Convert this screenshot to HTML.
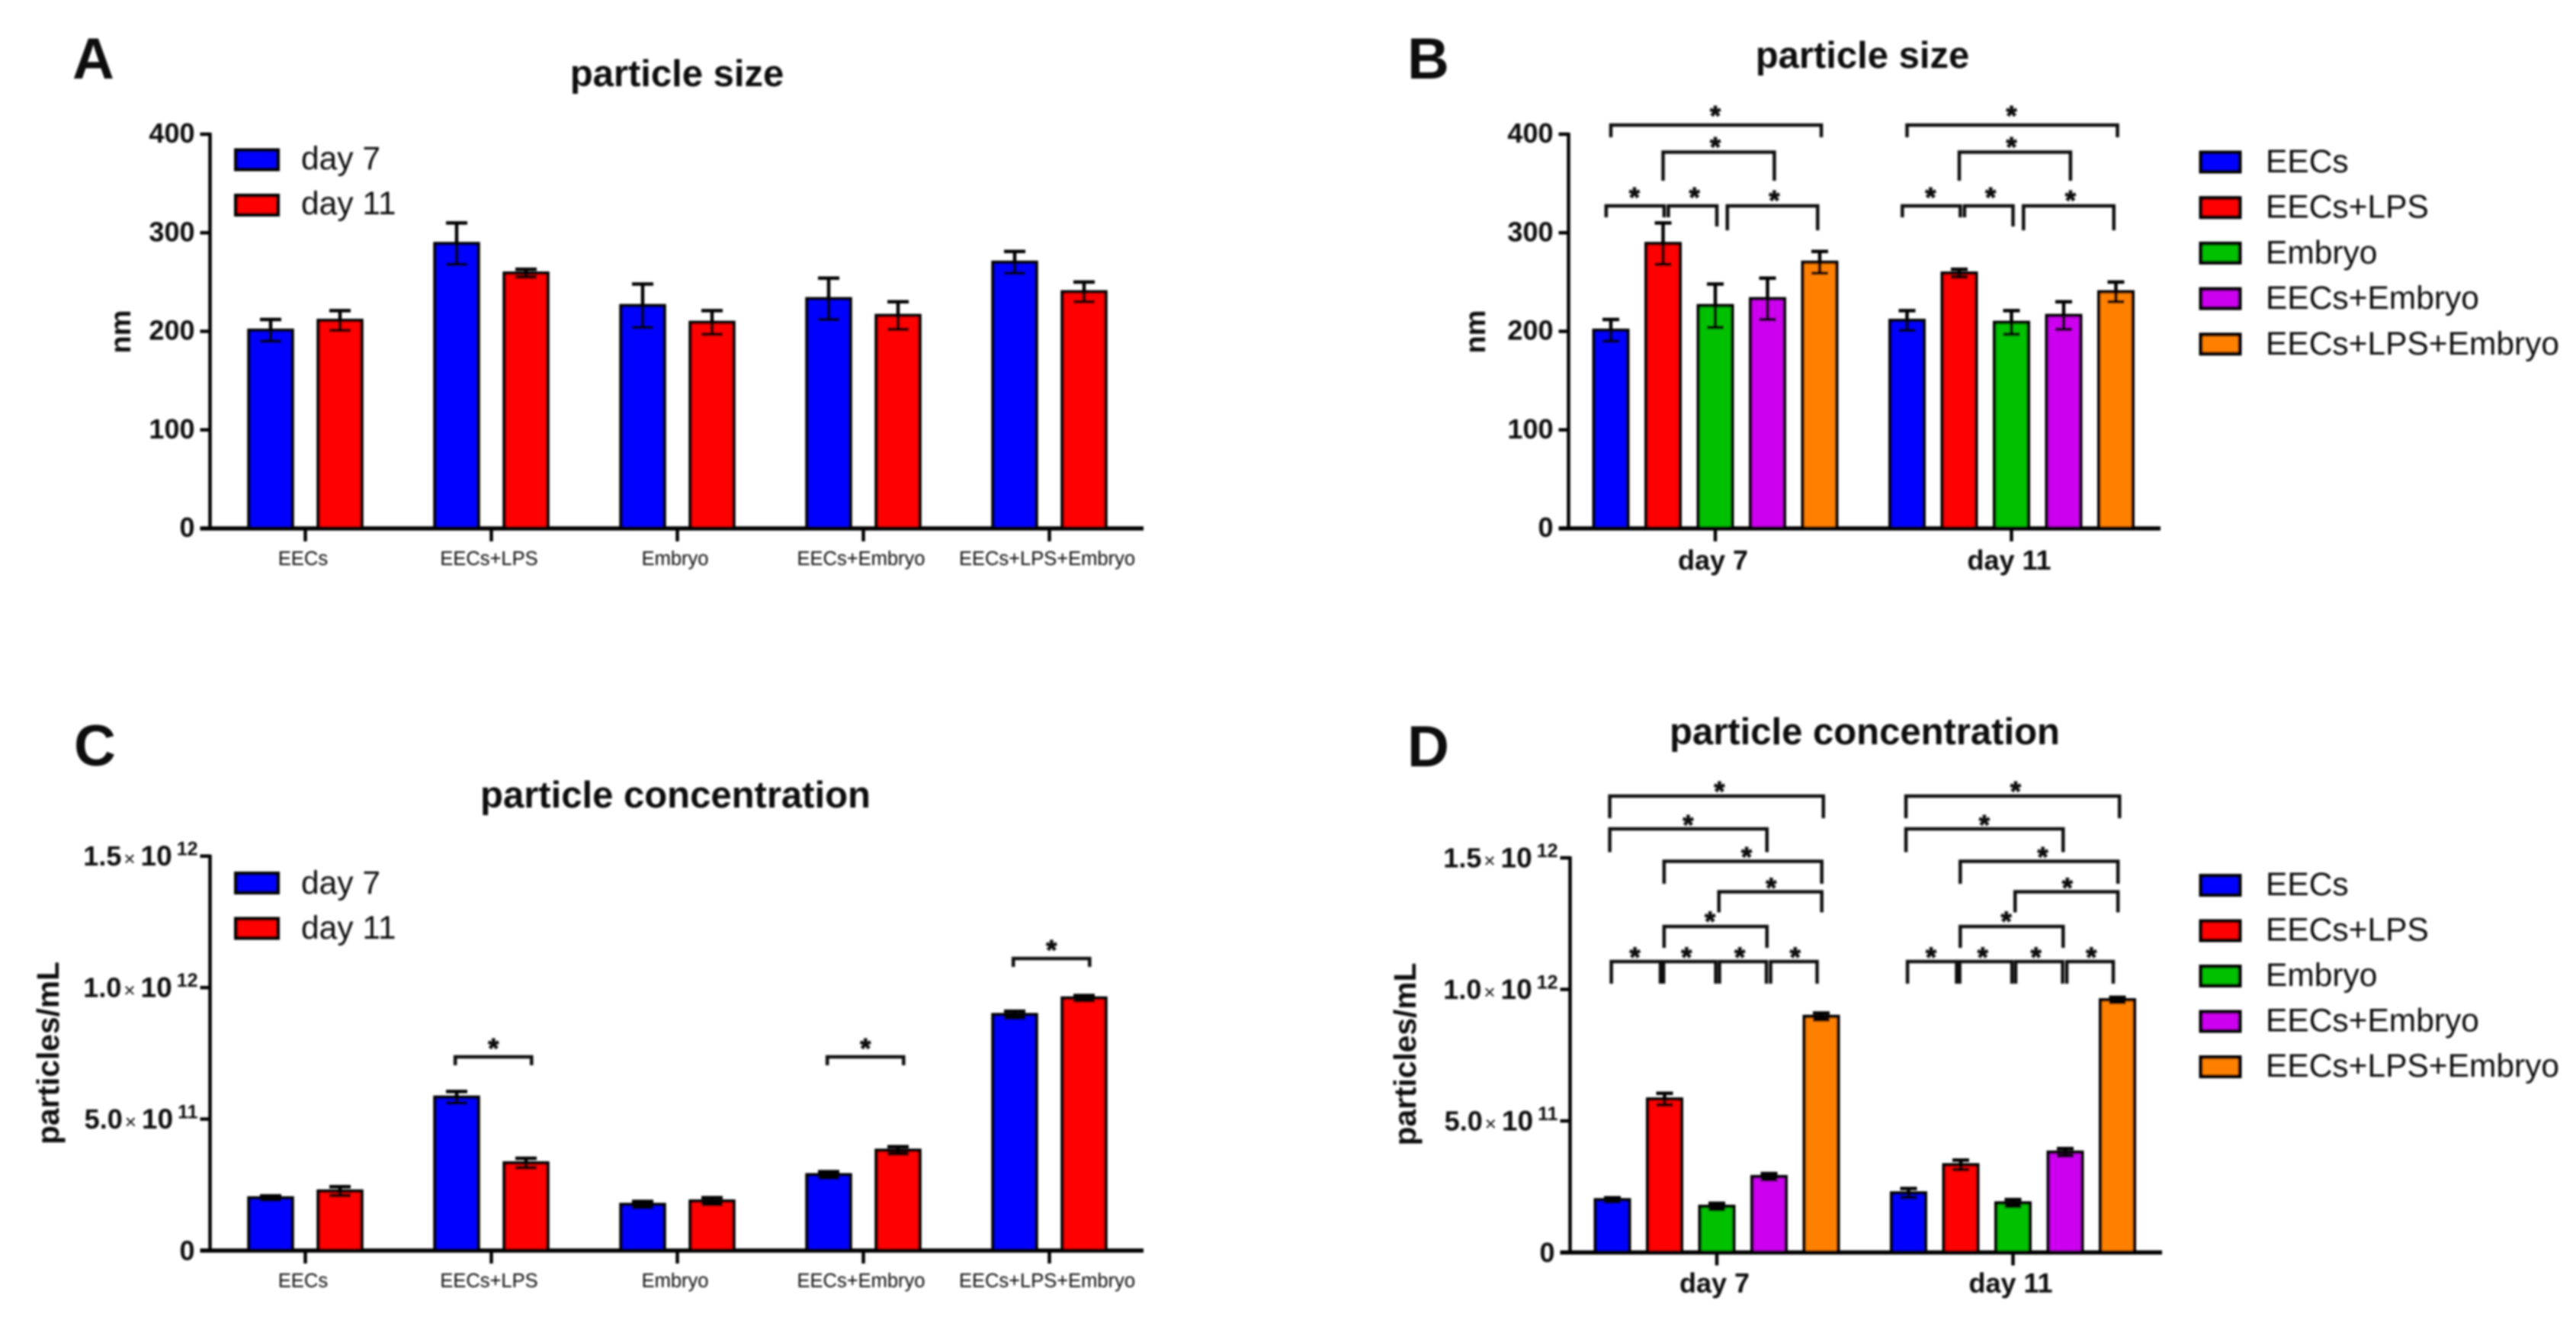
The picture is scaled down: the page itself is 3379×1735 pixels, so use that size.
<!DOCTYPE html>
<html lang="en">
<head>
<meta charset="utf-8">
<title>Particle size and particle concentration</title>
<style>
html,body{margin:0;padding:0;background:#fff;width:3379px;height:1735px;overflow:hidden}
svg{display:block}
text{font-family:"Liberation Sans",sans-serif;fill:#111}
</style>
</head>
<body>
<svg id="figure" xmlns="http://www.w3.org/2000/svg" width="3379" height="1735" viewBox="0 0 3379 1735">
<defs>
<filter id="soft" filterUnits="userSpaceOnUse" x="0" y="0" width="3379" height="1735"><feGaussianBlur stdDeviation="1.3"/></filter>
</defs>
<rect x="0" y="0" width="3379" height="1735" fill="#fff"/>
<g id="root" filter="url(#soft)">
<text x="95" y="103" font-size="76" font-weight="700">A</text>
<text x="1846" y="103" font-size="76" font-weight="700">B</text>
<text x="97" y="1004" font-size="76" font-weight="700">C</text>
<text x="1846" y="1005" font-size="76" font-weight="700">D</text>
<text x="888" y="113" font-size="49" font-weight="700" text-anchor="middle">particle size</text>
<text x="2443" y="89" font-size="49" font-weight="700" text-anchor="middle">particle size</text>
<text x="886" y="1059" font-size="49" font-weight="700" text-anchor="middle">particle concentration</text>
<text x="2446" y="976" font-size="49" font-weight="700" text-anchor="middle">particle concentration</text>
</g>
</svg>
<script>
// ---- data ----
const categories = ['EECs', 'EECs+LPS', 'Embryo', 'EECs+Embryo', 'EECs+LPS+Embryo'];
const days = ['day 7', 'day 11'];
const sizeDay7 = [201, 289, 226, 233, 270];
const sizeDay11 = [211, 259, 209, 216, 240];
const sizeErrDay7 = [11, 21, 22, 21, 11];
const sizeErrDay11 = [10, 4, 12, 14, 10];
const concDay7 = [2.0e11, 5.83e11, 1.75e11, 2.88e11, 8.97e11];
const concDay11 = [2.26e11, 3.33e11, 1.88e11, 3.81e11, 9.6e11];
const concErrDay7 = [0.08e11, 0.22e11, 0.12e11, 0.12e11, 0.13e11];
const concErrDay11 = [0.17e11, 0.18e11, 0.13e11, 0.14e11, 0.1e11];
const sizeTicks = [0, 100, 200, 300, 400];
const sizeTickLabels = ['0', '100', '200', '300', '400'];
const concTicks = [0, 5e11, 1e12, 1.5e12];
const concTickMantissas = ['0', '5.0', '1.0', '1.5'];
const concTickExponents = ['', '11', '12', '12'];

const NS = 'http://www.w3.org/2000/svg';
const root = document.getElementById('root');
const dayColors = ['#0000ff', '#ff0000'];
const catColors = ['#0000ff', '#ff0000', '#00c000', '#cc00ee', '#ff8000'];

function mk(tag, parent, props) {
  const el = document.createElementNS(NS, tag);
  for (const k in props) el.setAttribute(k, props[k]);
  parent.appendChild(el);
  return el;
}
function yScale(p, v) { return p.y0 - v / p.vmax * (p.y0 - p.yTop); }
function drawRect(g, x, w, yv, y0, fill) {
  const el = mk('rect', g, {x: x - w / 2, y: yv, width: w, height: y0 - yv, fill: fill, stroke: '#000', 'stroke-width': 4.5});
  return el;
}
function drawError(g, p, cx, value, err) {
  const t = yScale(p, value + err), b = yScale(p, value - err), c = p.cap;
  const el = mk('path', g, {d: 'M' + (cx - c) + ' ' + t + 'H' + (cx + c) + 'M' + cx + ' ' + t + 'V' + b + 'M' + (cx - c) + ' ' + b + 'H' + (cx + c), fill: 'none', stroke: '#000', 'stroke-width': 4.5});
  return el;
}
function drawYAxis(g, p, ticks, drawLabel) {
  const axis = mk('line', g, {x1: p.axisX, x2: p.axisX, y1: p.yTop - 2, y2: p.y0, stroke: '#000', 'stroke-width': 4.5});
  
  
  ticks.forEach(function (t, i) {
    const y = yScale(p, t);
    const tick = mk('line', g, {x1: p.axisX - 13, x2: p.axisX, y1: y, y2: y, stroke: '#000', 'stroke-width': 4.5});
    
    
    drawLabel(g, p, y, i);
  });
}
function sizeLabel(g, p, y, i) {
  const el = mk('text', g, {x: p.axisX - 20, y: y + 11, 'font-size': 36, 'font-weight': 700, 'text-anchor': 'end'});
  el.textContent = sizeTickLabels[i];
  
  
}
function concLabel(g, p, y, i) {
  const el = mk('text', g, {x: concTickExponents[i] ? p.axisX - 16 : p.axisX - 20, y: y + 12.5, 'font-size': 36, 'font-weight': 700, 'text-anchor': 'end'});
  
  
  if (!concTickExponents[i]) { el.textContent = concTickMantissas[i]; return; }
  const a = mk('tspan', el, {}); a.textContent = concTickMantissas[i];
  const b = mk('tspan', el, {'font-size': 26, 'font-weight': 400, dx: 3}); b.textContent = '\u00d7';
  const c = mk('tspan', el, {'font-size': 37, dx: 7}); c.textContent = '10';
  const d = mk('tspan', el, {'font-size': 25, dy: -13.5, dx: 6}); d.textContent = concTickExponents[i];
}
function drawXAxisLine(g, p) {
  const el = mk('line', g, {x1: p.axisX - 13, x2: p.axisEnd, y1: p.y0, y2: p.y0, stroke: '#000', 'stroke-width': 5.5});
  
  
}
function drawXTick(g, p, x, label, baseline, bold) {
  const t = mk('line', g, {x1: x, x2: x, y1: p.y0, y2: p.y0 + 17, stroke: '#000', 'stroke-width': 4.5});
  
  
  const el = mk('text', g, {x: x - 3, y: baseline, 'text-anchor': 'middle', 'font-size': bold ? 36 : 25.5, 'font-weight': bold ? 700 : 400, fill: bold ? '#111' : '#333'});
  el.textContent = label;
  
  
}
function drawYTitle(g, x, y, label, size) {
  const el = mk('text', g, {transform: 'translate(' + x + ' ' + y + ') rotate(-90)', 'text-anchor': 'middle', 'font-size': size, 'font-weight': 700});
  el.textContent = label;
  
  
}
function drawStar(g, x, cy) {
  const el = mk('text', g, {x: x, y: cy + 20, 'text-anchor': 'middle', 'font-size': 36, 'font-weight': 700, stroke: '#111', 'stroke-width': 1});
  el.textContent = '*';
  
  
}
function drawBracket(g, x1, x2, y, dropL, dropR) {
  const el = mk('path', g, {d: 'M' + x1 + ' ' + dropL + 'V' + y + 'H' + x2 + 'V' + dropR, fill: 'none', stroke: '#111', 'stroke-width': 4.5});
  
  
}
function drawSwatch(g, x, y, w, h, color, label, tx, ty) {
  const s = mk('rect', g, {x: x, y: y, width: w, height: h, fill: color, stroke: '#000', 'stroke-width': 5});
  
  
  const t = mk('text', g, {x: tx, y: ty, 'font-size': 42.5, fill: '#222'});
  t.textContent = label;
  
  
}

// Panels A / C: x axis = categories, two bars per category
function drawByCategory(g, p, series, errors, ticks, labelFn) {
  categories.forEach(function (cat, c) {
    series.forEach(function (vals, s) {
      const cx = p.x0 + c * p.catStep + s * p.serStep;
      const bar = drawRect(g, cx, 57, yScale(p, vals[c]), p.y0, dayColors[s]);
      
      
      const err = drawError(g, p, cx, vals[c], errors[s][c]);
      
      
    });
    drawXTick(g, p, p.x0 + c * p.catStep + p.serStep / 2, cat, p.labelY, false);
  });
  drawYAxis(g, p, ticks, labelFn);
  drawXAxisLine(g, p);
}
// Panels B / D: x axis = days, five bars per day
function drawByDay(g, p, series, errors, ticks, labelFn) {
  days.forEach(function (day, d) {
    categories.forEach(function (cat, c) {
      const cx = barX(p, d, c);
      const bar = drawRect(g, cx, 44.5, yScale(p, series[d][c]), p.y0, catColors[c]);
      
      
      const err = drawError(g, p, cx, series[d][c], errors[d][c]);
      
      
    });
    drawXTick(g, p, barX(p, d, 2), day, p.labelY, true);
  });
  drawYAxis(g, p, ticks, labelFn);
  drawXAxisLine(g, p);
}
function barX(p, d, c) { return p.x0 + d * p.groupStep + c * p.serStep; }

function panelGroup(name) {
  const g = mk('g', root, {});
  
  
  return g;
}

const sizeSeries = [sizeDay7, sizeDay11];
const sizeErrors = [sizeErrDay7, sizeErrDay11];
const concSeries = [concDay7, concDay11];
const concErrors = [concErrDay7, concErrDay11];

// ---- Panel A ----
const pA = {axisX: 275.5, axisEnd: 1500, y0: 693, yTop: 176, vmax: 400, x0: 355, catStep: 244, serStep: 91, labelY: 741, cap: 14};
const gA = panelGroup('panel-a');
drawByCategory(gA, pA, sizeSeries, sizeErrors, sizeTicks, sizeLabel);
drawYTitle(gA, 171, 435, 'nm', 38);
days.forEach(function (day, i) {
  drawSwatch(gA, 309.5, 197 + i * 59.5, 55, 25, dayColors[i], day, 395, 222 + i * 59);
});

// ---- Panel B ----
const pB = {axisX: 2057.5, axisEnd: 2834, y0: 693, yTop: 176, vmax: 400, x0: 2113, groupStep: 388.5, serStep: 68.5, labelY: 747, cap: 11};
const gB = panelGroup('panel-b');
drawByDay(gB, pB, sizeSeries, sizeErrors, sizeTicks, sizeLabel);
drawYTitle(gB, 1948, 435, 'nm', 38);
categories.forEach(function (cat, i) {
  drawSwatch(gB, 2887, 200 + i * 59.7, 51, 25, catColors[i], cat, 2972, 226 + i * 59.7);
});
days.forEach(function (day, d) {
  const bx = function (i) { return barX(pB, d, i); };
  drawBracket(gB, bx(0), bx(4.03), 164, 180, 180);
  drawStar(gB, bx(2), 144);
  drawBracket(gB, bx(1), bx(3.13), 199.5, 237, 237);
  drawStar(gB, bx(2), 185);
  drawBracket(gB, bx(-0.09), bx(1.02), 270, 285, 285);
  drawBracket(gB, bx(1.1), bx(2.03), 270, 285, 297);
  drawBracket(gB, bx(2.23), bx(3.96), 270, 302, 302);
  drawStar(gB, bx(0.45), 251);
  drawStar(gB, bx(1.6), 251);
  drawStar(gB, bx(3.13), 255);
});

// ---- Panel C ----
const pC = {axisX: 275.5, axisEnd: 1500, y0: 1640, yTop: 1122.7, vmax: 1.5e12, x0: 355, catStep: 244, serStep: 91, labelY: 1688, cap: 14};
const gC = panelGroup('panel-c');
drawByCategory(gC, pC, concSeries, concErrors, concTicks, concLabel);
drawYTitle(gC, 77, 1381, 'particles/mL', 40.7);
days.forEach(function (day, i) {
  drawSwatch(gC, 309.5, 1145.5 + i * 59.5, 55, 25, dayColors[i], day, 395, 1172 + i * 59);
});
[1, 3, 4].forEach(function (c, k) {
  const bx = function (f) { return pC.x0 + c * pC.catStep + f * pC.serStep; };
  const y = [1386, 1386, 1257][k];
  drawBracket(gC, bx(-0.02), bx(1.08), y, y + 11, y + 11);
  drawStar(gC, bx(0.53), y - 19);
});

// ---- Panel D ----
const pD = {axisX: 2059.5, axisEnd: 2836, y0: 1642.5, yTop: 1125, vmax: 1.5e12, x0: 2115, groupStep: 388.5, serStep: 68.5, labelY: 1695, cap: 11};
const gD = panelGroup('panel-d');
drawByDay(gD, pD, concSeries, concErrors, concTicks, concLabel);
drawYTitle(gD, 1857, 1382.5, 'particles/mL', 40.7);
categories.forEach(function (cat, i) {
  drawSwatch(gD, 2887, 1148.5 + i * 59.5, 51, 25, catColors[i], cat, 2972, 1174 + i * 59.5);
});
days.forEach(function (day, d) {
  const bx = function (i) { return barX(pD, d, i); };
  drawBracket(gD, bx(-0.05), bx(4.04), 1044, 1073, 1073);
  drawStar(gD, bx(2.05), 1030);
  drawBracket(gD, bx(-0.05), bx(2.96), 1087, 1117.5, 1117.5);
  drawStar(gD, bx(1.45), 1074);
  drawBracket(gD, bx(0.99), bx(4.01), 1129.5, 1159, 1159);
  drawStar(gD, bx(2.57), 1116);
  drawBracket(gD, bx(2.04), bx(4.01), 1169.5, 1196.5, 1196.5);
  drawStar(gD, bx(3.04), 1156.5);
  drawBracket(gD, bx(0.99), bx(2.96), 1215, 1243, 1243);
  drawStar(gD, bx(1.87), 1200.7);
  drawBracket(gD, bx(-0.02), bx(0.92), 1261, 1290, 1290);
  drawBracket(gD, bx(0.98), bx(1.98), 1261, 1290, 1290);
  drawBracket(gD, bx(2.05), bx(2.95), 1261, 1290, 1290);
  drawBracket(gD, bx(3.03), bx(3.92), 1261, 1290, 1290);
  drawStar(gD, bx(0.43), 1247.5);
  drawStar(gD, bx(1.42), 1247.5);
  drawStar(gD, bx(2.44), 1247.5);
  drawStar(gD, bx(3.5), 1247.5);
});
</script>
</body>
</html>
